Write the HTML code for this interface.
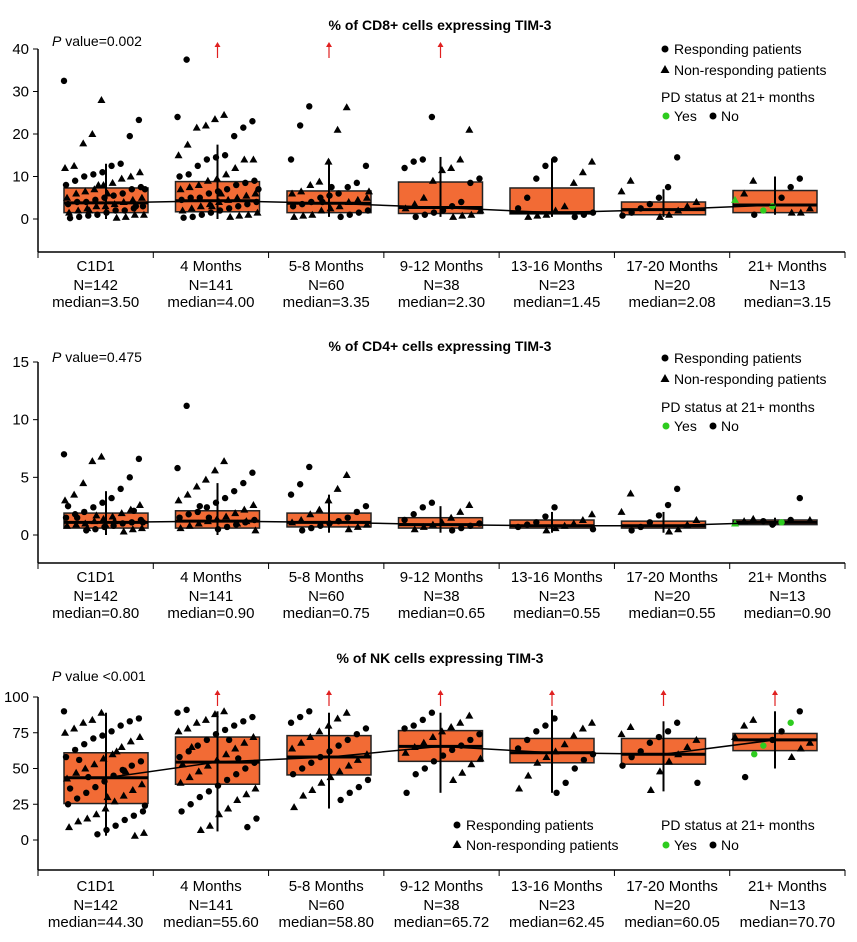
<!DOCTYPE html>
<html><head><meta charset="utf-8"><style>
body{margin:0;background:#fff}
svg{display:block;font-family:"Liberation Sans",Arial,sans-serif}
</style></head><body>
<svg id="chart" width="857" height="942" xmlns="http://www.w3.org/2000/svg"></svg>
<script>
const categories=["C1D1","4 Months","5-8 Months","9-12 Months","13-16 Months","17-20 Months","21+ Months"];
const nCounts=[142,141,60,38,23,20,13];
const cd8Medians=["3.50","4.00","3.35","2.30","1.45","2.08","3.15"];
const cd4Medians=["0.80","0.90","0.75","0.65","0.55","0.55","0.90"];
const nkMedians=["44.30","55.60","58.80","65.72","62.45","60.05","70.70"];
// box stats: [whiskerLow, q1, median, q3, whiskerHigh]
const cd8Boxes=[[0,1.5,3.8,7.3,13],[0,1.7,4.3,8.8,17.5],[0.5,1.5,3.7,6.6,14],[0.5,1.3,2.7,8.7,14.6],[0.5,1.2,1.5,7.3,14.2],[0.5,1.0,2.2,4.0,7],[1,1.5,3.3,6.7,10]];
const cd4Boxes=[[0,0.6,1.1,1.9,3.8],[0,0.6,1.2,2.1,4.5],[0.2,0.7,1.1,1.9,3.5],[0.2,0.6,0.9,1.5,2.5],[0.2,0.6,0.8,1.3,2],[0.2,0.6,0.8,1.2,2],[0.8,0.9,1.1,1.3,1.5]];
const nkBoxes=[[3,25.5,43.5,61,89],[6,39,54.5,72,90],[22,45.5,58,73,89],[33,55,65.5,76.5,89],[33,54,61,71,91],[34,53,60,71,83],[50,62.5,70,74.5,90]];
const cd8Points=[
[32.5,28,23.3,20,19.5,17.8,13,12.5,12.5,12,11,11,10.5,10,10,9.5,9,8.5,8,8,7.5,7,7,6.5,6,6,5.5,5,5,5,4.5,4.5,4,4,4,3.5,3.5,3,3,3,2.5,2.5,2,2,2,1.5,1.5,1,1,1,0.8,0.5,0.5,0.3,0.2,6,7,8,3,2],
[37.5,24.5,24,23.5,23,22,21.5,21.5,19.5,17.5,15,15,14.5,14,14,14,12.5,12,10.5,10.5,10,9.5,9,9,8.5,8,8,7.5,7,7,6.5,6,6,5.5,5,5,5,4.5,4.5,4,4,3.5,3.5,3,3,2.5,2.5,2,2,1.5,1.5,1,1,0.8,0.5,0.5,0.3,6,7,3],
[26.5,26.3,22,21,14,13.5,12.5,8.8,8.5,8,7.5,6.5,6,6,5.5,5,5,4.5,4,4,3.5,3,3,2.5,2,2,1.5,1,1,0.8,0.5,0.5,7.5,6.5,4],
[24,21,14,14,13.5,12,12,11.5,9.5,9,8.5,5,4,3.5,3,2.5,2,2,1.5,1,1,0.8,0.5,0.5],
[14,13.5,12.5,11,9.5,8.5,5,3,2.5,2,1.5,1,1,0.8,0.5,0.5],
[14.5,9,7.5,6.5,5,4,3.5,3,2.5,2,1.5,1,0.8,0.5],
[9.5,9,7.5,6,5,4.5,3,2.5,2,1.5,1,1.5]];
const cd4Points=[
[7,6.8,6.6,6.4,5,4.5,4,3.5,3.2,3,2.8,2.6,2.4,2.2,2,1.9,1.8,1.6,1.5,1.4,1.3,1.2,1.1,1,1,0.9,0.8,0.8,0.7,0.6,0.5,0.5,0.4,0.3,1.5,1.2,2.5,0.9,1.1,1.7,2.1,0.6],
[11.2,6.4,5.8,5.6,5.4,4.8,4.5,4.2,3.8,3.5,3.2,3,2.8,2.6,2.4,2.2,2,1.9,1.8,1.6,1.5,1.4,1.3,1.2,1.1,1,0.9,0.8,0.7,0.6,0.5,0.4,1.5,1.2,2.5,1.0],
[5.9,5.2,4.4,4,3.5,3,2.5,2.2,2,1.8,1.5,1.3,1.2,1.1,1,0.9,0.8,0.7,0.6,0.5,0.4],
[2.8,2.6,2.4,2,1.8,1.5,1.3,1.1,1,0.9,0.8,0.7,0.6,0.5,0.4],
[2.4,1.8,1.6,1.3,1.1,1,0.9,0.8,0.7,0.6,0.5,0.4],
[4,3.6,2.6,2,1.7,1.3,1.1,0.9,0.7,0.5,0.4,0.3],
[3.2,1.4,1.3,1.2,1.1,1,0.9,1.3,1.2]];
const nkPoints=[
[90,89,85,84,83,82,80,78,76,75,73,72,71,69,67,65,63,60,58,57,55,53,52,50,49,47,45,43,41,39,37,35,33,31,29,27,25,22,20,18,17,15,14,13,10,9,7,5,4,3,44,48,56,62,36,30,24],
[91,90,89,88,86,84,83,82,80,78,77,76,74,72,70,68,66,64,62,60,58,56,54,52,50,48,46,44,42,40,38,36,34,32,30,28,25,22,20,18,15,10,9,7,57,65,70,53],
[90,89,86,85,82,80,78,76,74,72,70,68,66,64,62,60,58,56,54,52,50,48,46,44,42,40,37,35,33,31,28,23],
[89,87,84,82,80,79,78,76,74,72,70,68,66,65,63,61,59,57,55,53,50,47,46,42,33],
[85,82,80,78,76,73,70,67,64,62,60,58,56,54,50,45,40,36,33],
[82,79,76,74,72,70,68,65,62,60,58,55,52,48,40,35],
[90,84,82,80,76,72,70,68,66,64,60,58,44]];
const cd8Green=[5,6,8];
const cd4Green=[4,5];
const nkGreen=[2,10,8];
const cd8Ticks=[0,10,20,30,40];
const cd4Ticks=[0,5,10,15];
const nkTicks=[0,25,50,75,100];
const cd8Arrows=[1,2,3];
const nkArrows=[1,2,3,4,5,6];

const NS="http://www.w3.org/2000/svg";
const svg=document.getElementById('chart');
function mk(tag,attrs,parent,text){const e=document.createElementNS(NS,tag);for(const k in attrs)e.setAttribute(k,attrs[k]);if(text!==undefined)e.textContent=text;(parent||svg).appendChild(e);return e;}
const X0=38,X1=845,STEP=(X1-X0)/7;
function cx(i){return 106+111.5*i;}

function panel(p){
  const g=mk('g',{});
  
  
  const y=v=>p.y0-(v-p.vmin)*(p.y0-p.ytop)/(p.vmax-p.vmin);
  const t=mk('text',{x:440,y:p.titleY,'text-anchor':'middle','font-size':14,'font-weight':'bold'},g,p.title);
  
  const pv=mk('text',{x:52,y:p.pY,'font-size':14},g);
  
  mk('tspan',{'font-style':'italic'},pv,'P');mk('tspan',{},pv,p.pText);
  const ya=mk('line',{x1:X0,y1:p.ytop,x2:X0,y2:p.axisY,stroke:'#000','stroke-width':1.5},g);
  
  const xa=mk('line',{x1:X0,y1:p.axisY,x2:X1,y2:p.axisY,stroke:'#000','stroke-width':1.5},g);
  
  p.ticks.forEach(v=>{
    mk('line',{x1:X0-5,y1:y(v),x2:X0,y2:y(v),stroke:'#000'},g);
    const tl=mk('text',{x:X0-9,y:y(v)+5,'text-anchor':'end','font-size':15},g,String(v));
    
  });
  for(let k=0;k<=7;k++)mk('line',{x1:X0+STEP*k,y1:p.axisY,x2:X0+STEP*k,y2:p.axisY+6,stroke:'#000'},g);
  categories.forEach((c,i)=>{
    const lx=X0+STEP*(i+0.5);
    [c,'N='+nCounts[i],'median='+p.medians[i]].forEach((s,j)=>{
      const tl=mk('text',{x:lx,y:p.axisY+p.lab+[0,19,36][j],'text-anchor':'middle','font-size':15},g,s);
      
    });
  });
  p.boxes.forEach((b,i)=>{
    const c=cx(i);
    const r=mk('rect',{x:c-42,y:y(b[3]),width:84,height:y(b[1])-y(b[3]),fill:'#f26b35',stroke:'#222','stroke-width':1.5},g);
    
    mk('line',{x1:c,y1:y(b[0]),x2:c,y2:y(b[4]),stroke:'#000','stroke-width':2},g);
    mk('line',{x1:c-42,y1:y(b[2]),x2:c+42,y2:y(b[2]),stroke:'#000','stroke-width':3},g);
  });
  p.points.forEach((arr,i)=>{
    arr.forEach((v,k)=>{
      const px=cx(i)+(((k*37+i*11)%83)/83-0.5)*84;
      const py=y(v);
      const col=(i===6&&p.green.includes(k))?'#2ecc1f':'#000';
      let m;
      if(k%2===0)m=mk('circle',{cx:px,cy:py,r:3.2,fill:col},g);
      else m=mk('polygon',{points:`${px},${py-4} ${px-4},${py+3} ${px+4},${py+3}`,fill:col},g);
      
      
    });
  });
  const pl=mk('polyline',{points:p.boxes.map((b,i)=>cx(i)+','+y(b[2])).join(' '),fill:'none',stroke:'#000','stroke-width':1.5},g);
  
  (p.arrows||[]).forEach(i=>{
    const a=mk('g',{},g);
    
    mk('line',{x1:cx(i),y1:p.arrowY+3,x2:cx(i),y2:p.arrowY+16,stroke:'#e02020','stroke-width':1.2},a);
    mk('polygon',{points:`${cx(i)},${p.arrowY} ${cx(i)-3},${p.arrowY+5} ${cx(i)+3},${p.arrowY+5}`,fill:'#e02020'},a);
  });
  const L=p.legend;
  const lg=mk('g',{},g);
  
  mk('circle',{cx:L.x1,cy:L.y1-5,r:3.5,fill:'#000'},lg);
  mk('text',{x:L.x1+9,y:L.y1,'font-size':14},lg,'Responding patients');
  mk('polygon',{points:`${L.x1},${L.y2-10} ${L.x1-4.5},${L.y2-2} ${L.x1+4.5},${L.y2-2}`,fill:'#000'},lg);
  mk('text',{x:L.x1+9,y:L.y2,'font-size':14},lg,'Non-responding patients');
  mk('text',{x:L.x2,y:L.y3,'font-size':14},lg,'PD status at 21+ months');
  mk('circle',{cx:L.x2+5,cy:L.y4-5,r:3.5,fill:'#2ecc1f'},lg);
  mk('text',{x:L.x2+13,y:L.y4,'font-size':14},lg,'Yes');
  mk('circle',{cx:L.x2+52,cy:L.y4-5,r:3.5,fill:'#000'},lg);
  mk('text',{x:L.x2+60,y:L.y4,'font-size':14},lg,'No');
}
panel({name:'cd8-panel',title:'% of CD8+ cells expressing TIM-3',titleY:30,pY:46,pText:' value=0.002',vmin:0,vmax:40,y0:219,ytop:49,axisY:252,lab:19,ticks:cd8Ticks,boxes:cd8Boxes,points:cd8Points,green:cd8Green,medians:cd8Medians,arrows:cd8Arrows,arrowY:42,legend:{x1:665,y1:54,y2:75,x2:661,y3:102,y4:121}});
panel({name:'cd4-panel',title:'% of CD4+ cells expressing TIM-3',titleY:351,pY:362,pText:' value=0.475',vmin:0,vmax:15,y0:535,ytop:362,axisY:563,lab:19,ticks:cd4Ticks,boxes:cd4Boxes,points:cd4Points,green:cd4Green,medians:cd4Medians,legend:{x1:665,y1:363,y2:384,x2:661,y3:412,y4:431}});
panel({name:'nk-panel',title:'% of NK cells expressing TIM-3',titleY:663,pY:681,pText:' value <0.001',vmin:0,vmax:100,y0:840,ytop:697,axisY:870,lab:21,ticks:nkTicks,boxes:nkBoxes,points:nkPoints,green:nkGreen,medians:nkMedians,arrows:nkArrows,arrowY:690,legend:{x1:457,y1:830,y2:850,x2:661,y3:830,y4:850}});
</script>
</body></html>
